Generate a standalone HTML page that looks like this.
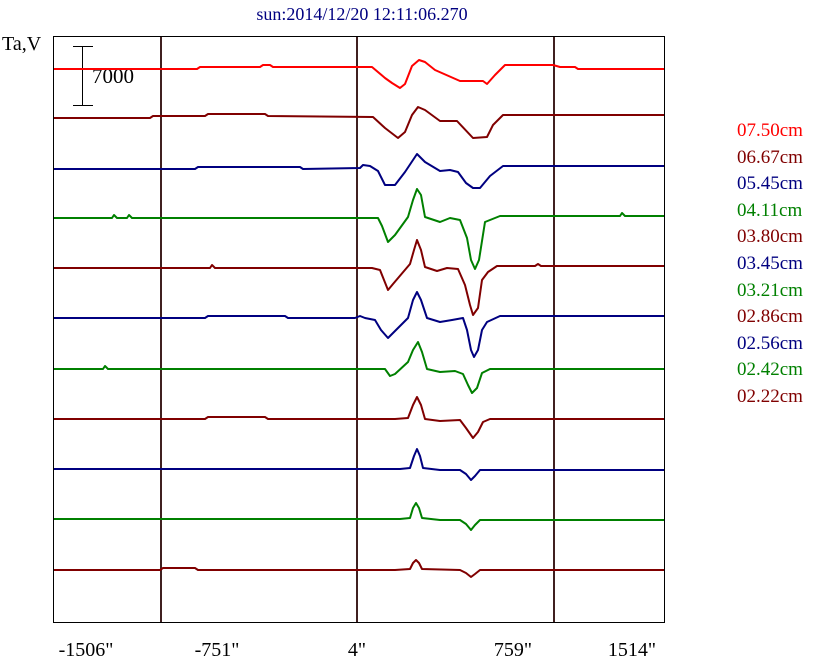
<!DOCTYPE html>
<html><head><meta charset="utf-8"><style>
body{margin:0;background:#fff;}
svg{display:block;font-family:"Liberation Serif",serif;}
</style></head><body>
<svg width="813" height="662" viewBox="0 0 813 662" xmlns="http://www.w3.org/2000/svg">
<rect width="813" height="662" fill="#fff"/>
<text x="362" y="20" text-anchor="middle" font-size="18" fill="#000080">sun:2014/12/20 12:11:06.270</text>
<text x="2" y="50" font-size="20" fill="#000">Ta,V</text>
<rect x="53.5" y="36.5" width="611" height="586" fill="none" stroke="#000" stroke-width="1"/>
<g stroke="#402020" stroke-width="2">
<line x1="161" y1="37" x2="161" y2="622"/>
<line x1="357" y1="37" x2="357" y2="622"/>
<line x1="554" y1="37" x2="554" y2="622"/>
</g>
<g stroke="#000" stroke-width="1">
<line x1="82.5" y1="47" x2="82.5" y2="105"/>
<line x1="73" y1="46.5" x2="93" y2="46.5"/>
<line x1="73" y1="105.5" x2="93" y2="105.5"/>
</g>
<text x="92" y="83" font-size="21" fill="#000">7000</text>
<g fill="none" stroke-width="2" stroke-linejoin="round">
<polyline stroke="#ff0000" points="54,69 197,69 200,67 260,67 263,65 270,65 273,67 372,67 385,78 392,83 400,88 405,84 412,66 419,60 425,62 435,70 460,81 483,81 487,84 495,75 505,65 553,65 560,67 575,67 578,69 664,69"/>
<polyline stroke="#800000" points="54,118 150,118 153,116 205,116 208,114 265,114 268,116 373,117 385,128 398,138 405,132 412,115 418,107 425,110 440,121 457,121 473,138 487,137 493,125 503,115 664,115"/>
<polyline stroke="#000080" points="54,169 195,169 198,167 300,167 303,169 360,168 363,165 370,166 378,171 385,185 395,185 405,172 417,154 425,162 440,171 450,170 458,172 466,183 473,188 480,188 490,176 503,166 664,166"/>
<polyline stroke="#008000" points="54,218 112,218 114,215 117,218 127,218 129,215 132,218 352,218 378,218 382,226 388,242 395,235 408,217 413,200 417,189 421,195 425,217 440,222 450,218 460,220 467,238 471,260 475,269 479,260 485,222 500,216 620,216 622,213 625,216 664,216"/>
<polyline stroke="#800000" points="54,268 210,268 212,265 215,268 372,268 380,270 384,280 388,290 393,284 410,264 414,250 417,240 421,250 425,267 437,271 447,268 458,269 465,285 470,305 473,315 478,308 482,280 488,272 497,266 535,266 538,264 541,266 664,266"/>
<polyline stroke="#000080" points="54,318 205,318 208,316 285,316 288,318 355,318 360,316 365,318 375,320 381,330 388,338 395,331 408,318 413,300 417,292 421,300 427,318 440,322 452,320 463,318 467,330 471,350 474,357 478,350 482,330 487,322 500,316 664,316"/>
<polyline stroke="#008000" points="54,369 103,369 105,366 108,369 385,369 390,376 395,374 408,362 413,350 418,342 422,352 427,369 440,372 455,371 463,374 468,385 472,393 477,388 482,373 490,369 664,369"/>
<polyline stroke="#800000" points="54,419 205,419 208,417 265,417 268,419 395,419 408,418 413,405 417,397 421,405 425,419 440,421 460,420 466,428 473,438 478,432 483,422 490,419 664,419"/>
<polyline stroke="#000080" points="54,469 400,469 410,468 414,456 417,449 420,456 423,468 440,470 460,470 466,474 471,480 475,476 480,470 664,470"/>
<polyline stroke="#008000" points="54,519 400,519 410,518 413,508 416,503 419,508 422,518 440,520 460,520 466,524 471,530 475,525 480,520 664,520"/>
<polyline stroke="#800000" points="54,570 160,570 163,568 195,568 198,570 395,570 410,569 413,563 416,560 419,563 422,569 460,570 466,573 471,577 475,574 480,570 664,570"/>
</g>
<g font-size="19">
<text x="737" y="136" fill="#ff0000">07.50cm</text>
<text x="737" y="163" fill="#800000">06.67cm</text>
<text x="737" y="189" fill="#000080">05.45cm</text>
<text x="737" y="216" fill="#008000">04.11cm</text>
<text x="737" y="242" fill="#800000">03.80cm</text>
<text x="737" y="269" fill="#000080">03.45cm</text>
<text x="737" y="296" fill="#008000">03.21cm</text>
<text x="737" y="322" fill="#800000">02.86cm</text>
<text x="737" y="349" fill="#000080">02.56cm</text>
<text x="737" y="375" fill="#008000">02.42cm</text>
<text x="737" y="402" fill="#800000">02.22cm</text>
</g>
<g font-size="20" fill="#000" text-anchor="middle">
<text x="86" y="656">-1506"</text>
<text x="217" y="656">-751"</text>
<text x="357" y="656">4"</text>
<text x="513" y="656">759"</text>
<text x="632" y="656">1514"</text>
</g>
</svg>
</body></html>
